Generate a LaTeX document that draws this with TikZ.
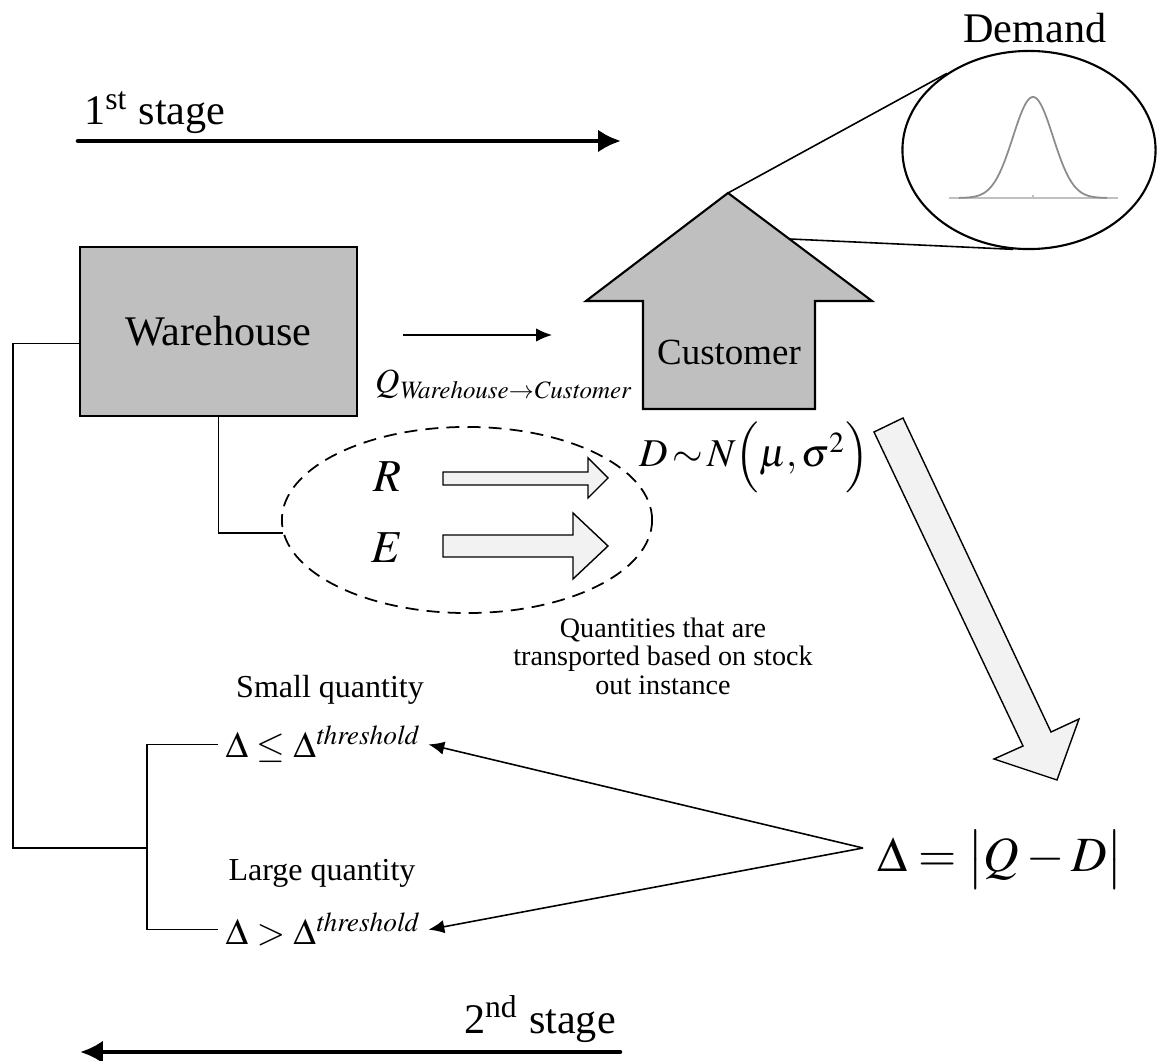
\documentclass[tikz,border=0pt]{standalone}
\usepackage{mathptmx}
\usepackage{fontspec}
\setmainfont{Liberation Serif}
\usetikzlibrary{arrows.meta, positioning, calc, shapes.geometric}
\definecolor{boxGray}{gray}{0.75}
\definecolor{lightFill}{gray}{0.95}
\definecolor{curveGray}{gray}{0.55}

\begin{document}
\begin{tikzpicture}[x=0.01cm, y=-0.01cm,
    every node/.style={inner sep=1pt},
    stagearrow/.style={line width=1.3pt, line cap=round, -{Latex[length=6.5pt, width=6.5pt]}},
    thinarrow/.style={line width=0.45pt, -{Latex[length=4.5pt, width=3.8pt]}},
    link/.style={line width=0.45pt},
    fatarrow/.style={draw, line width=0.4pt, fill=lightFill},
    bigtxt/.style={font=\fontsize{12}{14}\selectfont},
    smalltxt/.style={font=\fontsize{9.1}{10}\selectfont},
    mathtxt/.style={font=\fontsize{10.5}{12}\selectfont, inner sep=2pt},
]
    \useasboundingbox (0,0) rectangle (1157,1061);

    % 1st stage
    \coordinate (s1From) at (78,141);
    \coordinate (s1To) at (621,141);
    \draw[stagearrow] (s1From) -- (s1To);
    \node[bigtxt, anchor=base west] (stage1) at (80,125) {1\textsuperscript{st} stage};

    % warehouse and shipment
    \node[draw, fill=boxGray, line width=0.6pt, minimum width=2.77cm, minimum height=1.69cm, bigtxt] (warehouse) at (218.5,331.5) {Warehouse};
    \coordinate (qFrom) at (403,335);
    \coordinate (qTo) at (552,335);
    \draw[thinarrow] (qFrom) -- (qTo);
    \node[font=\fontsize{9.6}{12}\selectfont, anchor=base west] (qLbl) at (371,393) {$Q_{\mathit{Warehouse}\to\mathit{Customer}}$};

    % customer
    \coordinate (custTip) at (728,193);
    \coordinate (custShoulder) at (790,239);
    \draw[fill=boxGray, line width=0.6pt, line join=miter] (643,409) -- (643,301) -- (586,301) -- (custTip) -- (872,301) -- (815,301) -- (815,409) -- cycle;
    \node[font=\fontsize{10.5}{12}\selectfont] (customer) at (729,352) {Customer};
    \node[font=\fontsize{11.2}{14}\selectfont, anchor=base west] (dist) at (635,467) {$D\,{\sim}\,N\Bigl(\mu,\sigma^{2}\Bigr)$};

    % demand bubble
    \node[draw, ellipse, line width=0.6pt, minimum width=2.53cm, minimum height=1.98cm, inner sep=0pt] (bubble) at (1029,150) {};
    \draw[curveGray!55, line width=0.5pt] (949,198) -- (1118,198);
    \draw[curveGray!55] (1033,198) -- (1033,195);
    \draw[curveGray, line width=0.5pt] plot[domain=-74:74, samples=90, smooth] ({1033+\x},{198-101*exp(-(\x*\x)/800)});
    \draw[link] (custTip) -- (bubble.137);
    \draw[link] (custShoulder) -- (bubble.261);
    \node[bigtxt, anchor=base] (demand) at (1035,43) {Demand};

    % R and E
    \node[draw, ellipse, line width=0.5pt, dash pattern=on 3.7pt off 2.3pt, minimum width=3.7cm, minimum height=1.86cm] (reGroup) at (467,520) {};
    \node[font=\fontsize{13}{15}\selectfont] (rLbl) at (387,477) {$R$};
    \node[font=\fontsize{13}{15}\selectfont] (eLbl) at (387,548) {$E$};
    \draw[fatarrow] (443,472) -- (588,472) -- (588,458) -- (608,478) -- (588,498) -- (588,485) -- (443,485) -- cycle;
    \draw[fatarrow] (443,535) -- (573,535) -- (573,513) -- (608,546) -- (573,579) -- (573,557) -- (443,557) -- cycle;
    \draw[link] (warehouse.south) |- (reGroup.184);
    \node[font=\fontsize{8}{8.1}\selectfont, align=center] (qtyNote) at (663,656) {Quantities that are\\transported based on stock\\out instance};

    % gap between order and demand
    \draw[fatarrow] (874,432) -- (1023,746) -- (994,759) -- (1057,780) -- (1079,719) -- (1051,732) -- (903,418) -- cycle;
    \node[font=\fontsize{14}{16}\selectfont, anchor=base west] (delta) at (873,872) {$\Delta=\bigl|Q-D\bigr|$};
    \coordinate (conv) at (863,848);

    % 2nd stage decisions
    \node[smalltxt] (smallLbl) at (330,690) {Small quantity};
    \node[mathtxt, anchor=base west] (small) at (218,758) {$\Delta\le\Delta^{\mathit{threshold}}$};
    \node[smalltxt] (largeLbl) at (322,873) {Large quantity};
    \node[mathtxt, anchor=base west] (large) at (218,945) {$\Delta>\Delta^{\mathit{threshold}}$};
    \draw[thinarrow] (conv) -- (small.east);
    \draw[thinarrow] (conv) -- (large.east);
    \coordinate (split) at (147,848);
    \coordinate (outer) at (13,848);
    \draw[link] (small.west) -| (split) |- (large.west);
    \draw[link] ([yshift=-3.4pt]warehouse.west) -| (outer) -- (split);

    % 2nd stage
    \coordinate (s2From) at (620,1052);
    \coordinate (s2To) at (80,1052);
    \draw[stagearrow] (s2From) -- (s2To);
    \node[bigtxt, anchor=base east] (stage2) at (620,1033) {2\textsuperscript{nd} stage};
\end{tikzpicture}
\end{document}
